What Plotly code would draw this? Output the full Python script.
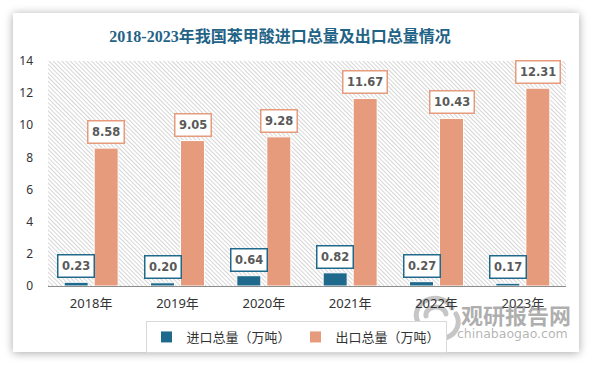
import base64
import plotly.graph_objects as go

# ---------------- data ----------------
years = ["2018年", "2019年", "2020年", "2021年", "2022年", "2023年"]
import_vals = [0.23, 0.20, 0.64, 0.82, 0.27, 0.17]
export_vals = [8.58, 9.05, 9.28, 11.67, 10.43, 12.31]
series_names = ["进口总量（万吨）", "出口总量（万吨）"]
title_text = "2018-2023年我国苯甲酸进口总量及出口总量情况"
y_ticks = [0, 2, 4, 6, 8, 10, 12, 14]

# ---------------- style ----------------
W, H = 594, 366
ML, MR, MT, MB = 48, 28, 61, 80
PW, PH = W - ML - MR, H - MT - MB
C_IMP = "#1f6a8c"
C_EXP = "#e59b7c"

# background: page, shadowed card, hatched plot area, watermark logo
svg = f'''<svg xmlns="http://www.w3.org/2000/svg" width="{W}" height="{H}" viewBox="0 0 {W} {H}">
<defs>
<filter id="sh" x="-10%" y="-10%" width="120%" height="120%">
<feGaussianBlur in="SourceAlpha" stdDeviation="5"/>
<feOffset dx="0" dy="1" result="b"/>
<feComponentTransfer><feFuncA type="linear" slope="0.35"/></feComponentTransfer>
<feMerge><feMergeNode/><feMergeNode in="SourceGraphic"/></feMerge>
</filter>
<pattern id="hatch" patternUnits="userSpaceOnUse" width="3" height="10" patternTransform="rotate(-45)">
<rect width="3" height="10" fill="#ffffff"/>
<line x1="0.5" y1="0" x2="0.5" y2="10" stroke="#d6d6d6" stroke-width="1"/>
</pattern>
</defs>
<rect width="{W}" height="{H}" fill="#ffffff"/>
<rect x="13" y="13" width="566" height="339" fill="#ffffff" filter="url(#sh)"/>
<rect x="{ML}" y="{MT}" width="{PW}" height="{PH}" fill="url(#hatch)"/>
<g fill="none" stroke="#b8b8b8" stroke-width="5" stroke-linecap="round" opacity="0.8">
<path d="M418 322 A18 16 0 0 1 452 308"/>
<path d="M456 314 A18 16 0 0 1 422 330"/>
<path d="M426 316 A10 8 0 0 1 446 314"/>
</g>
</svg>'''
svg_uri = "data:image/svg+xml;base64," + base64.b64encode(svg.encode("utf-8")).decode()

fig = go.Figure()
fig.add_trace(go.Bar(
    x=years, y=import_vals, name=series_names[0],
    marker=dict(color=C_IMP, line=dict(color="#ffffff", width=1)),
    hoverinfo="skip",
))
fig.add_trace(go.Bar(
    x=years, y=export_vals, name=series_names[1],
    marker=dict(color=C_EXP, line=dict(color="#ffffff", width=1)),
    hoverinfo="skip",
))

label_font = dict(family="DejaVu Sans", size=11.5, color="#595959", weight="bold")

# boxed value labels
annotations = []
for yr, v in zip(years, import_vals):
    annotations.append(dict(
        x=yr, y=v, xref="x", yref="y", text=f"{v:.2f}", showarrow=False,
        xshift=-15, yshift=4, yanchor="bottom", xanchor="center",
        bgcolor="#ffffff", bordercolor=C_IMP, borderwidth=1.5, borderpad=3.5,
        font=label_font,
    ))
for yr, v in zip(years, export_vals):
    annotations.append(dict(
        x=yr, y=v, xref="x", yref="y", text=f"{v:.2f}", showarrow=False,
        xshift=15, yshift=4, yanchor="bottom", xanchor="center",
        bgcolor="#ffffff", bordercolor=C_EXP, borderwidth=1.5, borderpad=3.5,
        font=label_font,
    ))

# watermark text
annotations.append(dict(
    x=(516 - ML) / PW, y=(MT + PH - 314) / PH, xref="paper", yref="paper",
    text="观研报告网", showarrow=False, xanchor="center", yanchor="middle",
    font=dict(family="Noto Sans CJK SC", size=22, color="rgba(120,120,120,0.6)", weight="bold"),
))
annotations.append(dict(
    x=(512 - ML) / PW, y=(MT + PH - 333) / PH, xref="paper", yref="paper",
    text="chinabaogao.com", showarrow=False, xanchor="center", yanchor="middle",
    font=dict(family="DejaVu Sans", size=12.5, color="rgba(130,130,130,0.6)"),
))

fig.update_layout(
    width=W, height=H,
    margin=dict(l=ML, r=MR, t=MT, b=MB, pad=0, autoexpand=False),
    paper_bgcolor="#ffffff",
    plot_bgcolor="rgba(0,0,0,0)",
    barmode="group", bargap=0.305, bargroupgap=0.2,
    title=dict(
        text=title_text, x=280 / W, xanchor="center", y=1 - 36 / H, yanchor="middle",
        xref="container", yref="container",
        font=dict(family="Liberation Serif, Noto Sans CJK SC", size=16, color="#1f6386", weight="bold"),
    ),
    xaxis=dict(
        showgrid=False, zeroline=False, showline=True, linecolor="#8c8c8c", linewidth=1,
        ticks="", ticklabelstandoff=5, automargin=False,
        tickfont=dict(family="Noto Sans, Noto Sans CJK SC", size=13, color="#333333"),
    ),
    yaxis=dict(
        range=[0, 14], tickvals=y_ticks, showgrid=False, zeroline=False, showline=False,
        ticks="", ticklabelstandoff=14, automargin=False,
        tickfont=dict(family="Noto Sans, Noto Sans CJK SC", size=12, color="#333333"),
    ),
    legend=dict(
        orientation="h", x=(296 - ML) / PW, xanchor="center", y=(MT + PH - 321) / PH, yanchor="top",
        bordercolor="#d9d9d9", borderwidth=1, bgcolor="#ffffff",
        font=dict(family="Noto Sans CJK SC", size=13, color="#333333"),
    ),
    annotations=annotations,
    images=[dict(
        source=svg_uri, xref="paper", yref="paper",
        x=-ML / PW, y=1 + MT / PH, sizex=W / PW, sizey=H / PH,
        xanchor="left", yanchor="top", sizing="stretch", layer="below",
    )],
    showlegend=True,
)

fig.write_html(
    "out.html",
    config={"displayModeBar": False},
    post_script="document.body.style.margin='0';document.body.style.overflow='hidden';",
)
